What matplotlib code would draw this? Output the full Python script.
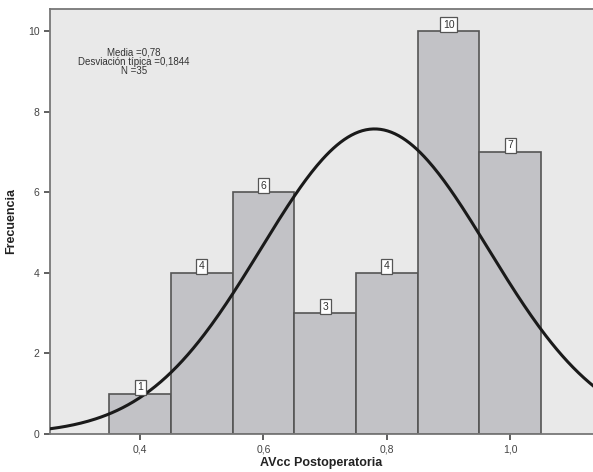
import numpy as np
import matplotlib.pyplot as plt

plt.rcParams['font.family'] = ['Liberation Sans', 'DejaVu Sans']

# histogram data
bin_left = [0.35, 0.45, 0.55, 0.65, 0.75, 0.85, 0.95]
counts = [1, 4, 6, 3, 4, 10, 7]
bin_width = 0.1
media = 0.78
desv = 0.1844
n = 35

fig = plt.figure(figsize=(5.93, 4.72), dpi=100)
ax = fig.add_axes([0.0843, 0.0805, 0.9157, 0.9005])
ax.set_facecolor('#e9e9e9')

ax.bar(bin_left, counts, width=bin_width, align='edge', color='#c2c2c6',
       edgecolor='#555555', linewidth=1.2, zorder=2)

for x, c in zip(bin_left, counts):
    ax.text(x + bin_width / 2, c + 0.04, str(c), ha='center', va='bottom',
            fontsize=7.5, color='#333333', zorder=4,
            bbox=dict(boxstyle='square,pad=0.25', facecolor='white',
                      edgecolor='#555555', linewidth=0.9))

# normal curve
xs = np.linspace(0.254, 1.134, 300)
ys = n * bin_width / (desv * np.sqrt(2 * np.pi)) * np.exp(-0.5 * ((xs - media) / desv) ** 2)
ax.plot(xs, ys, color='#1a1a1a', linewidth=2.2, zorder=3)

ax.text(0.155, 0.91, "Media =0,78\nDesviación típica =0,1844\nN =35",
        transform=ax.transAxes, ha='center', va='top', fontsize=7,
        color='#333333', linespacing=0.95)

ax.set_xlim(0.254, 1.134)
ax.set_ylim(0, 10.55)
ax.set_xticks([0.4, 0.6, 0.8, 1.0])
ax.set_xticklabels(['0,4', '0,6', '0,8', '1,0'])
ax.set_yticks([0, 2, 4, 6, 8, 10])
ax.tick_params(labelsize=7.5, colors='#444444', length=4, width=1.2)
ax.spines['right'].set_visible(False)
for s in ['left', 'bottom', 'top']:
    ax.spines[s].set_color('#777777')
    ax.spines[s].set_linewidth(1.3)

ax.set_xlabel("AVcc Postoperatoria", fontsize=9, fontweight='bold',
              color='#222222', labelpad=2)
ax.set_ylabel("Frecuencia", fontsize=9, fontweight='bold', color='#222222',
              labelpad=8)

fig.savefig('out.png', dpi=100)
